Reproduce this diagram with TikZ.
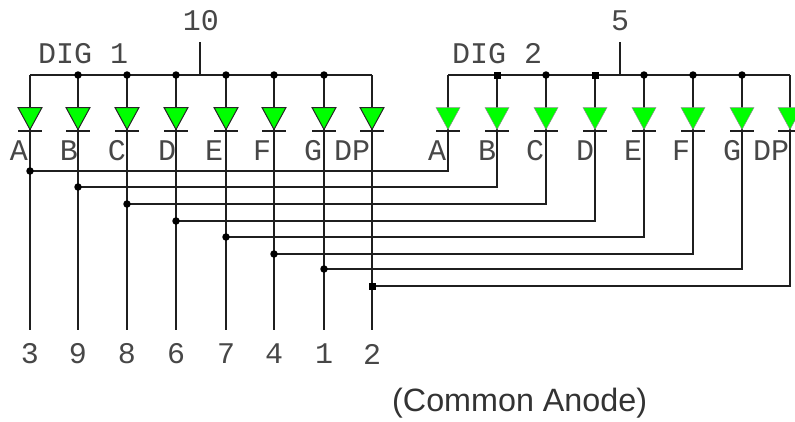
\documentclass[tikz,border=0pt]{standalone}
\usepackage{fontspec}
\setmainfont{Liberation Sans}
\newfontfamily\cadfont{Liberation Mono}
\tikzset{
  wire/.style={draw=black!88,line width=1.7pt},
  dotj/.style={circle,fill=black,inner sep=0pt,minimum size=7.5pt},
  sqj/.style={rectangle,fill=black,inner sep=0pt,minimum size=7pt},
  ledA/.style={fill=green,draw=black!85,line width=1pt,line join=miter},
  ledB/.style={fill=green,draw=black!45,line width=0.5pt,line join=miter},
  cad/.style={font=\cadfont\fontsize{30}{30}\selectfont,inner sep=0pt,text=black!72},
  pinlab/.style={cad,anchor=center},
  note/.style={font=\fontsize{32.3}{34}\selectfont,inner sep=0pt,text=black!80}
}
\begin{document}
\begin{tikzpicture}[x=1pt,y=-1pt]
\useasboundingbox (0,0) rectangle (795,421);
\clip (0,0) rectangle (795,421);
% common buses
\coordinate (busAL) at (30,75);  \coordinate (busAR) at (372,75);
\coordinate (busBL) at (448,75); \coordinate (busBR) at (790,75);
\coordinate (topA) at (200,42);  \coordinate (busAT) at (200,75);
\coordinate (topB) at (620,42);  \coordinate (busBT) at (620,75);
\draw[wire] (busAL) -- (busAR);
\draw[wire] (busBL) -- (busBR);
\draw[wire] (topA) -- (busAT);
\draw[wire] (topB) -- (busBT);
% digit 1 and its cross wires
\foreach \i/\xa/\xb/\yh/\pin/\seg [count=\n] in {
  1/30/448/171/3/A, 2/78/497/187/9/B, 3/127/546/204/8/C, 4/176/595/221/6/D,
  5/226/644/237/7/E, 6/274/693/254/4/F, 7/324/742/269/1/G, 8/372/790/286/2/DP}{
  \coordinate (a\i) at (\xa,75);
  \coordinate (b\i) at (\xb,75);
  \coordinate (ja\i) at (\xa,\yh);
  \coordinate (jb\i) at (\xb,\yh);
  \coordinate (e\i) at (\xa,330);
  \draw[wire] (a\i) -- (e\i);
  \draw[wire,line join=miter] (b\i) -- (jb\i) -- (ja\i);
  \ifnum\i=8 \node[sqj] (da\i) at (ja\i) {}; \else \node[dotj] (da\i) at (ja\i) {}; \fi
  \ifnum\i>1 \ifnum\i<8
    \node[dotj] (ta\i) at (a\i) {};
    \ifodd\i \node[dotj] (tb\i) at (b\i) {};
    \else \ifnum\i<5 \node[sqj] (tb\i) at (b\i) {}; \else \node[dotj] (tb\i) at (b\i) {}; \fi\fi
  \fi\fi
  % LED digit 1
  \draw[ledA] (\xa-12,107.5) -- (\xa+12,107.5) -- (\xa,129.5) -- cycle;
  \draw[wire] (\xa-12,131) -- (\xa+12,131);
  % LED digit 2
  \draw[ledB] (\xb-12,107.5) -- (\xb+12,107.5) -- (\xb,129.5) -- cycle;
  \draw[wire] (\xb-12,131) -- (\xb+12,131);
  % pin number
  \node[pinlab] (p\i) at (\xa,354) {\pin};
}
% segment labels digit 1
\node[pinlab] (la1) at (19,150.5) {A};
\node[pinlab] (la2) at (69,150.5) {B};
\node[pinlab] (la3) at (117,150.5) {C};
\node[pinlab] (la4) at (167,150.5) {D};
\node[pinlab] (la5) at (214,150.5) {E};
\node[pinlab] (la6) at (262,150.5) {F};
\node[pinlab] (la7) at (313,150.5) {G};
\node[pinlab] (la8) at (352,150.5) {DP};
% segment labels digit 2
\node[pinlab] (lb1) at (437,150.5) {A};
\node[pinlab] (lb2) at (487,150.5) {B};
\node[pinlab] (lb3) at (535,150.5) {C};
\node[pinlab] (lb4) at (585,150.5) {D};
\node[pinlab] (lb5) at (633,150.5) {E};
\node[pinlab] (lb6) at (681,150.5) {F};
\node[pinlab] (lb7) at (732,150.5) {G};
\node[pinlab] (lb8) at (771,150.5) {DP};
% titles
\node[pinlab] (n10) at (201,21) {10};
\node[pinlab] (n5) at (620,21) {5};
\node[pinlab,anchor=west] (dig1) at (38,53.5) {DIG 1};
\node[pinlab,anchor=west] (dig2) at (452,53.5) {DIG 2};
\node[note,anchor=west] (ca) at (392,403) {(Common Anode)};
\end{tikzpicture}
\end{document}
